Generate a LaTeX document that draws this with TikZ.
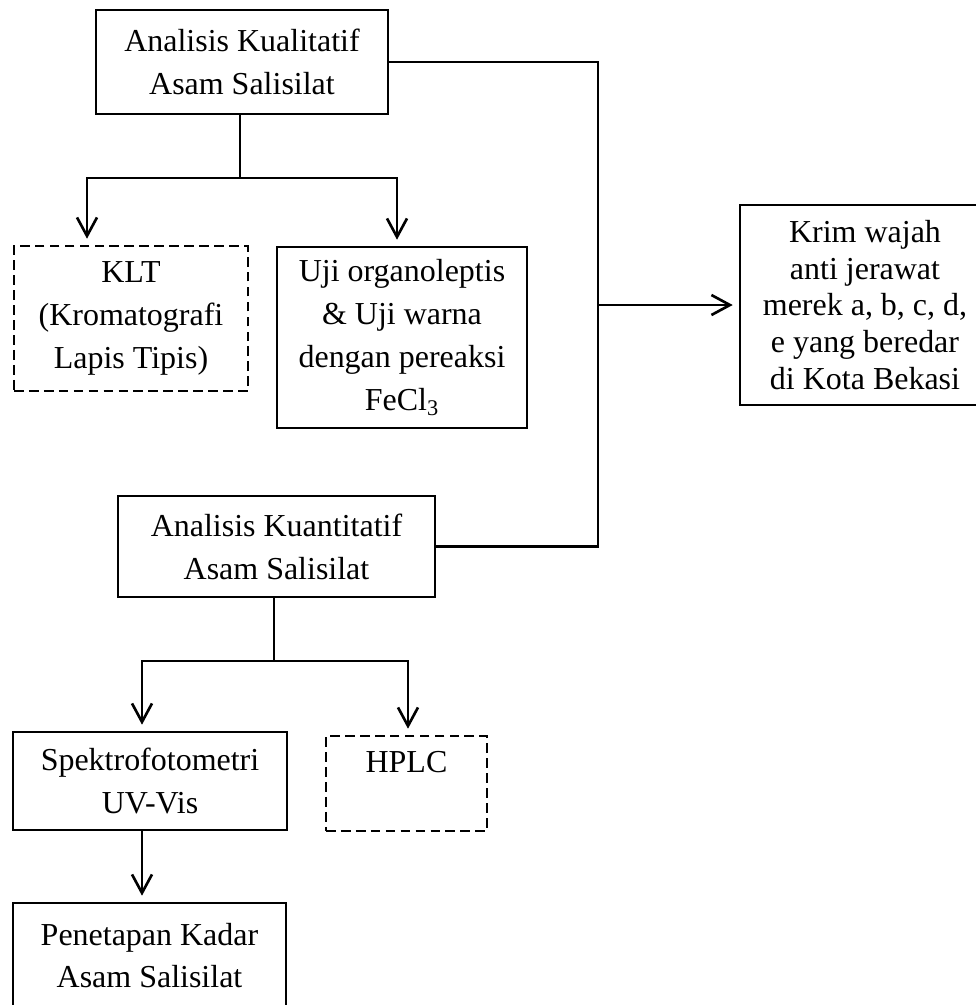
\documentclass[tikz,border=0pt]{standalone}
\usepackage{fontspec}
\setmainfont{Liberation Serif}
\usetikzlibrary{arrows.meta, positioning}

\begin{document}
\begin{tikzpicture}[x=0.02cm, y=-0.02cm,
    box/.style={draw, line width=1.5pt, align=center, inner sep=0pt, font=\fontsize{18.2}{24.4}\selectfont},
    dbox/.style={box, dash pattern=on 5.5pt off 3pt},
    arr/.style={line width=1.5pt, -{Straight Barb[length=0.37cm, width=0.4cm, line width=1.5pt]}, shorten >=0.12cm},
    conn/.style={line width=1.5pt}]
\useasboundingbox[fill=white] (0,0) rectangle (976,1005);
\clip (0,0) rectangle (976,1005);

\node[box, minimum width=5.84cm, minimum height=2.08cm] (kual) at (242,62) {Analisis Kualitatif\\Asam Salisilat};
\node[dbox, minimum width=4.68cm, minimum height=2.9cm] (klt) at (131,318.5) {KLT\\(Kromatografi\\Lapis Tipis)};
\node[box, minimum width=5.0cm, minimum height=3.62cm] (uji) at (402,337.5) {Uji organoleptis\\\& Uji warna\\dengan pereaksi\\FeCl\textsubscript{3}};
\node[box, minimum width=5.0cm, minimum height=4.0cm, font=\fontsize{18.2}{20.8}\selectfont] (krim) at (865,305) {Krim wajah\\anti jerawat\\merek a, b, c, d,\\e yang beredar\\di Kota Bekasi};
\node[box, minimum width=6.34cm, minimum height=2.02cm] (kuant) at (276.5,546.5) {Analisis Kuantitatif\\Asam Salisilat};
\node[box, minimum width=5.48cm, minimum height=1.96cm] (spek) at (150,781) {Spektrofotometri\\UV-Vis};
\node[dbox, minimum width=3.22cm, minimum height=1.9cm] (hplc) at (406.5,783.5) {HPLC\\\mbox{}};
\node[box, minimum width=5.46cm, minimum height=2.1cm] (pen) at (149.5,955.5) {Penetapan Kadar\\Asam Salisilat};

\coordinate (splitA) at (240,178);
\coordinate (splitB) at (274,661);
\coordinate (joinR) at (598,305);

\draw[conn] (kual.south -| splitA) -- (splitA);
\draw[arr] (splitA) -| ([xshift=-0.88cm]klt.north);
\draw[arr] (splitA) -| ([xshift=-0.1cm]uji.north);

\draw[conn] (kual.east) -| (joinR);
\draw[conn] (kuant.east) -| (joinR);
\draw[arr] (joinR) -- (krim.west);

\draw[conn] (kuant.south -| splitB) -- (splitB);
\draw[arr] (splitB) -| ([xshift=-0.16cm]spek.north);
\draw[arr] (splitB) -| ([xshift=0.03cm]hplc.north);
\draw[arr] ([xshift=-0.16cm]spek.south) -- ([xshift=-0.16cm]spek.south |- pen.north);

\end{tikzpicture}
\end{document}
